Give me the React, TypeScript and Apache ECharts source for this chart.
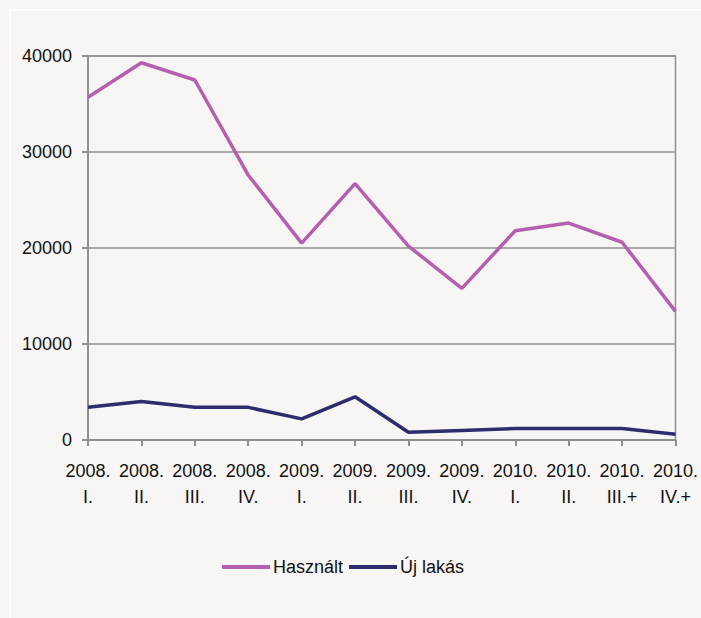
import React, { useEffect, useRef } from "react";
import * as echarts from "echarts";

const categories = [
  "2008.\nI.", "2008.\nII.", "2008.\nIII.", "2008.\nIV.",
  "2009.\nI.", "2009.\nII.", "2009.\nIII.", "2009.\nIV.",
  "2010.\nI.", "2010.\nII.", "2010.\nIII.+", "2010.\nIV.+",
];
const hasznalt = [35700, 39300, 37500, 27600, 20500, 26700, 20200, 15800, 21800, 22600, 20600, 13400];
const ujLakas = [3400, 4000, 3400, 3400, 2200, 4500, 800, 1000, 1200, 1200, 1200, 600];

const FONT = "'Liberation Sans', Arial, sans-serif";

export default function App() {
  const ref = useRef<HTMLDivElement>(null);
  useEffect(() => {
    document.body.style.margin = "0";
    const chart = echarts.init(ref.current!, null, { renderer: "svg" });
    chart.setOption({
      animation: false,
      backgroundColor: "#f7f6f4",
      graphic: [
        {
          type: "rect",
          shape: { x: 10, y: 10, width: 720, height: 640 },
          style: { fill: "none", stroke: "#ffffff", lineWidth: 2 },
          silent: true,
        },
      ],
      grid: {
        left: 88,
        right: 22,
        top: 56,
        bottom: 178,
        show: true,
        borderColor: "#8f8f8f",
        borderWidth: 1.5,
        backgroundColor: "transparent",
      },
      legend: {
        left: 217,
        top: 553,
        icon: "rect",
        itemWidth: 48,
        itemHeight: 4,
        itemGap: 6,
        textStyle: { fontFamily: FONT, fontSize: 18, color: "#111", padding: [0, 0, 0, -2] },
        data: ["Használt", "Új lakás"],
      },
      xAxis: {
        type: "category",
        data: categories,
        boundaryGap: false,
        axisLine: { lineStyle: { color: "#8f8f8f", width: 2 } },
        axisTick: { show: true, length: 6, alignWithLabel: true, lineStyle: { color: "#8f8f8f", width: 2 } },
        axisLabel: {
          interval: 0,
          margin: 18,
          fontFamily: FONT,
          fontSize: 18,
          lineHeight: 26,
          color: "#111",
          align: "center",
        },
        splitLine: { show: false },
      },
      yAxis: {
        type: "value",
        min: 0,
        max: 40000,
        interval: 10000,
        axisLine: { show: true, lineStyle: { color: "#8f8f8f", width: 2 } },
        axisTick: { show: true, length: 6, lineStyle: { color: "#8f8f8f", width: 2 } },
        axisLabel: {
          margin: 16,
          fontFamily: FONT,
          fontSize: 18,
          color: "#111",
          formatter: (v: number) => String(v),
        },
        splitLine: { show: true, lineStyle: { color: "#8f8f8f", width: 1.5 } },
      },
      series: [
        {
          name: "Használt",
          type: "line",
          data: hasznalt,
          showSymbol: false,
          symbol: "none",
          lineStyle: { color: "#b45fb0", width: 3.5 },
          itemStyle: { color: "#b45fb0" },
        },
        {
          name: "Új lakás",
          type: "line",
          data: ujLakas,
          showSymbol: false,
          symbol: "none",
          lineStyle: { color: "#2e2b6e", width: 3.5 },
          itemStyle: { color: "#2e2b6e" },
        },
      ],
    });
    return () => chart.dispose();
  }, []);
  return <div ref={ref} style={{ width: 701, height: 618 }} />;
}
